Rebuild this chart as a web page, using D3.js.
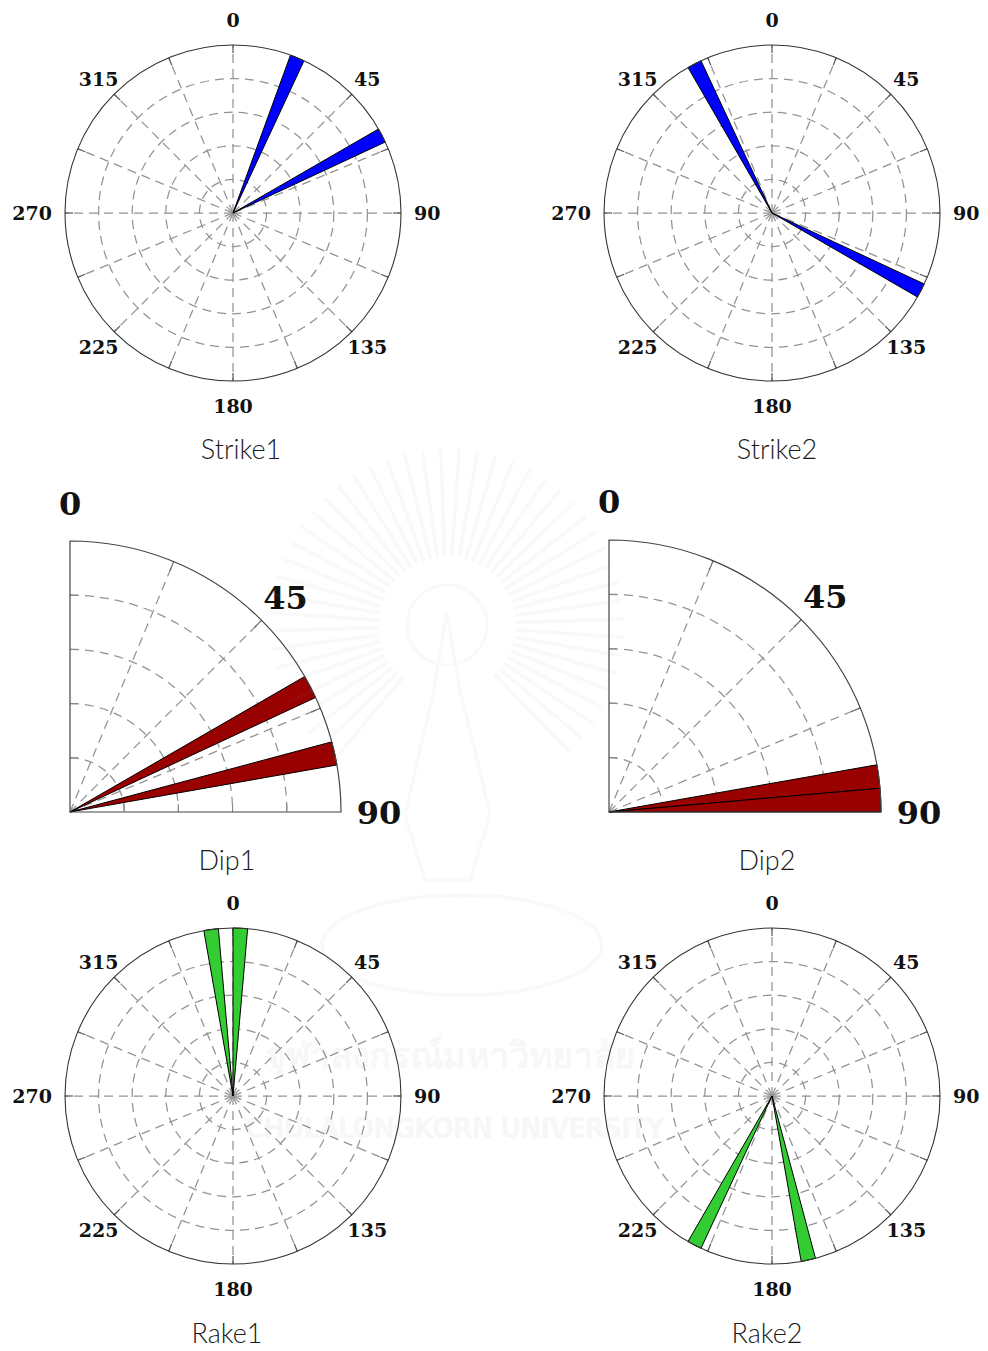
<!DOCTYPE html>
<html>
<head>
<meta charset="utf-8">
<script src="https://cdn.jsdelivr.net/npm/d3@7"></script>
<style>
  html, body { margin: 0; padding: 0; background: #fff; }
  svg { display: block; }
</style>
</head>
<body>
<svg id="chart" width="988" height="1351"></svg>
<script>
// Rose-diagram bins (start angle in degrees, 5-degree bins) and their counts
const binWidth = 5;
const strike1Bins = [20, 60];
const strike1Counts = [1, 1];
const strike2Bins = [115, 330];
const strike2Counts = [1, 1];
const dip1Bins = [60, 75];
const dip1Counts = [1, 1];
const dip2Bins = [80, 85];
const dip2Counts = [1, 1];
const rake1Bins = [350, 0];
const rake1Counts = [1, 1];
const rake2Bins = [165, 205];
const rake2Counts = [1, 1];

// Axis labels
const compassLabels = [0, 45, 90, 135, 180, 225, 270, 315];
const quarterLabels = [0, 45, 90];
const ringFractions = [0.2, 0.4, 0.6, 0.8];

const svg = d3.select("#chart");
const deg = d3.scaleLinear().domain([0, 360]).range([0, 2 * Math.PI]);

const gridColor = "#939393";
const gridWidth = 1.25;
const dash = "9,6";

function addTitle(title, pos) {
  svg.append("text")
    .attr("x", pos[0]).attr("y", pos[1])
    .attr("text-anchor", "middle")
    .attr("font-family", "Lato, 'Open Sans', sans-serif")
    .attr("font-weight", 300)
    .attr("font-size", 27)
    .attr("fill", "#1a1a1a")
    .text(title);
}

function fullRose(cx, cy, R, bins, counts, color, title, titlePos) {
  const g = svg.append("g").attr("transform", `translate(${cx},${cy})`);
  const r = d3.scaleLinear().domain([0, d3.max(counts)]).range([0, R]);

  g.append("circle").attr("r", R).attr("fill", "#fff").attr("stroke", "none");

  // dashed rings
  g.selectAll("circle.ring").data(ringFractions).join("circle")
    .attr("class", "ring")
    .attr("r", d => d * R)
    .attr("fill", "none").attr("stroke", gridColor)
    .attr("stroke-width", gridWidth).attr("stroke-dasharray", dash);

  // dashed spokes every 22.5 degrees
  const spokes = d3.range(0, 360, 22.5);
  g.selectAll("line.spoke").data(spokes).join("line")
    .attr("class", "spoke")
    .attr("x1", 0).attr("y1", 0)
    .attr("x2", d => R * Math.sin(deg(d)))
    .attr("y2", d => -R * Math.cos(deg(d)))
    .attr("stroke", gridColor).attr("stroke-width", gridWidth)
    .attr("stroke-dasharray", dash);

  // tick marks at the rim
  g.selectAll("line.tick").data(spokes).join("line")
    .attr("class", "tick")
    .attr("x1", d => (R - 8) * Math.sin(deg(d)))
    .attr("y1", d => -(R - 8) * Math.cos(deg(d)))
    .attr("x2", d => R * Math.sin(deg(d)))
    .attr("y2", d => -R * Math.cos(deg(d)))
    .attr("stroke", "#555").attr("stroke-width", 1.2);

  // wedges
  const arc = d3.arc().innerRadius(0);
  g.selectAll("path.wedge").data(bins.map((b, i) => ({ b, c: counts[i] }))).join("path")
    .attr("class", "wedge")
    .attr("d", d => arc({ outerRadius: r(d.c), startAngle: deg(d.b), endAngle: deg(d.b + binWidth) }))
    .attr("fill", color).attr("stroke", "#000").attr("stroke-width", 1);

  // outer rim
  g.append("circle").attr("r", R).attr("fill", "none")
    .attr("stroke", "#333").attr("stroke-width", 1.1);

  // compass labels: side labels hug the rim, others centred on a ring
  g.selectAll("text.lab").data(compassLabels).join("text")
    .attr("class", "lab")
    .each(function (d) {
      const s = Math.sin(deg(d)), c = Math.cos(deg(d));
      const t = d3.select(this);
      if (Math.abs(s) > 0.99) {
        t.attr("x", s * (R + 13)).attr("y", 0)
          .attr("text-anchor", s > 0 ? "start" : "end");
      } else {
        const lr = Math.abs(c) > 0.99 ? R + 25 : R + 22;
        t.attr("x", lr * s).attr("y", -lr * c).attr("text-anchor", "middle");
      }
    })
    .attr("dy", "0.36em")
    .attr("font-family", "DejaVu Serif, serif")
    .attr("font-weight", "bold")
    .attr("font-size", 19)
    .attr("fill", "#111")
    .text(d => d);

  addTitle(title, titlePos);
}

function quarterRose(ox, oy, R, bins, counts, color, title, titlePos) {
  const g = svg.append("g").attr("transform", `translate(${ox},${oy})`);
  const r = d3.scaleLinear().domain([0, d3.max(counts)]).range([0, R]);
  const quarterArc = d3.arc().innerRadius(0).startAngle(0).endAngle(Math.PI / 2);

  g.append("path").attr("d", quarterArc({ outerRadius: R })).attr("fill", "#fff");

  function ringPath(rr) {
    const p = d3.path();
    p.moveTo(0, -rr);
    p.arc(0, 0, rr, -Math.PI / 2, 0);
    return p.toString();
  }

  // dashed ring arcs
  g.selectAll("path.ring").data(ringFractions).join("path")
    .attr("class", "ring")
    .attr("d", d => ringPath(d * R))
    .attr("fill", "none").attr("stroke", gridColor)
    .attr("stroke-width", gridWidth).attr("stroke-dasharray", dash);

  // dashed spokes
  const spokes = [22.5, 45, 67.5];
  g.selectAll("line.spoke").data(spokes).join("line")
    .attr("class", "spoke")
    .attr("x1", 0).attr("y1", 0)
    .attr("x2", d => R * Math.sin(deg(d)))
    .attr("y2", d => -R * Math.cos(deg(d)))
    .attr("stroke", gridColor).attr("stroke-width", gridWidth)
    .attr("stroke-dasharray", dash);

  g.selectAll("line.tick").data(spokes).join("line")
    .attr("class", "tick")
    .attr("x1", d => (R - 10) * Math.sin(deg(d)))
    .attr("y1", d => -(R - 10) * Math.cos(deg(d)))
    .attr("x2", d => R * Math.sin(deg(d)))
    .attr("y2", d => -R * Math.cos(deg(d)))
    .attr("stroke", "#666").attr("stroke-width", 1.2);

  // ring ticks on the two straight edges
  g.selectAll("line.ltick").data(ringFractions).join("line")
    .attr("class", "ltick")
    .attr("x1", 0).attr("x2", 8)
    .attr("y1", d => -d * R).attr("y2", d => -d * R)
    .attr("stroke", "#888").attr("stroke-width", 1.1);
  g.selectAll("line.btick").data(ringFractions).join("line")
    .attr("class", "btick")
    .attr("x1", d => d * R).attr("x2", d => d * R)
    .attr("y1", 0).attr("y2", -8)
    .attr("stroke", "#888").attr("stroke-width", 1.1);

  // wedges
  const arc = d3.arc().innerRadius(0);
  g.selectAll("path.wedge").data(bins.map((b, i) => ({ b, c: counts[i] }))).join("path")
    .attr("class", "wedge")
    .attr("d", d => arc({ outerRadius: r(d.c), startAngle: deg(d.b), endAngle: deg(d.b + binWidth) }))
    .attr("fill", color).attr("stroke", "#000").attr("stroke-width", 1);

  // frame: outer arc plus straight edges
  const frame = d3.path();
  frame.moveTo(0, -R);
  frame.arc(0, 0, R, -Math.PI / 2, 0);
  frame.lineTo(0, 0);
  frame.closePath();
  g.append("path").attr("d", frame.toString())
    .attr("fill", "none").attr("stroke", "#444").attr("stroke-width", 1.2);

  const lr = R * 1.14;
  g.selectAll("text.lab").data(quarterLabels).join("text")
    .attr("class", "lab")
    .attr("x", d => lr * Math.sin(deg(d)) - (d === 45 ? 3 : 0))
    .attr("y", d => -lr * Math.cos(deg(d)) + (d === 45 ? 4 : 0))
    .attr("dy", "0.36em")
    .attr("text-anchor", "middle")
    .attr("font-family", "DejaVu Serif, serif")
    .attr("font-weight", "bold")
    .attr("font-size", 32)
    .attr("fill", "#111")
    .text(d => d);

  addTitle(title, titlePos);
}

fullRose(233, 213, 168, strike1Bins, strike1Counts, "#0000ff", "Strike1", [241, 459]);
fullRose(772, 213, 168, strike2Bins, strike2Counts, "#0000ff", "Strike2", [777, 459]);
quarterRose(70, 812, 271, dip1Bins, dip1Counts, "#990000", "Dip1", [227, 870]);
quarterRose(609, 812, 272, dip2Bins, dip2Counts, "#990000", "Dip2", [767, 870]);
fullRose(233, 1096, 168, rake1Bins, rake1Counts, "#33cc33", "Rake1", [227, 1343]);
fullRose(772, 1096, 168, rake2Bins, rake2Counts, "#33cc33", "Rake2", [767, 1343]);

// faint university watermark laid over the page
const wm = svg.append("g").attr("opacity", 0.055).attr("pointer-events", "none");
const rayAngles = d3.range(-140, 141, 6);
wm.selectAll("line.ray").data(rayAngles).join("line")
  .attr("x1", d => 447 + 70 * Math.sin(deg(d)))
  .attr("y1", d => 625 - 70 * Math.cos(deg(d)))
  .attr("x2", d => 447 + 175 * Math.sin(deg(d)))
  .attr("y2", d => 625 - 175 * Math.cos(deg(d)))
  .attr("stroke", "#999").attr("stroke-width", 3.5).attr("stroke-linecap", "round");
wm.append("circle").attr("cx", 447).attr("cy", 625).attr("r", 40)
  .attr("fill", "none").attr("stroke", "#999").attr("stroke-width", 3);
wm.append("path")
  .attr("d", "M447,612 L434,690 L420,750 L405,815 L425,880 L470,880 L490,815 L475,750 L460,690 Z")
  .attr("fill", "none").attr("stroke", "#999").attr("stroke-width", 3);
wm.append("ellipse").attr("cx", 462).attr("cy", 945).attr("rx", 140).attr("ry", 50)
  .attr("fill", "none").attr("stroke", "#999").attr("stroke-width", 3.5);
wm.append("text").attr("x", 450).attr("y", 1068).attr("text-anchor", "middle")
  .attr("font-family", "'Noto Sans', 'DejaVu Sans', sans-serif").attr("font-weight", "bold")
  .attr("font-size", 36).attr("textLength", 370).attr("fill", "#777").text("จุฬาลงกรณ์มหาวิทยาลัย");
wm.append("text").attr("x", 455).attr("y", 1138).attr("text-anchor", "middle")
  .attr("font-family", "'Liberation Sans Narrow', 'DejaVu Sans Condensed', sans-serif").attr("font-weight", "bold")
  .attr("font-size", 29).attr("textLength", 420).attr("fill", "#777").text("CHULALONGKORN UNIVERSITY");
</script>
</body>
</html>
